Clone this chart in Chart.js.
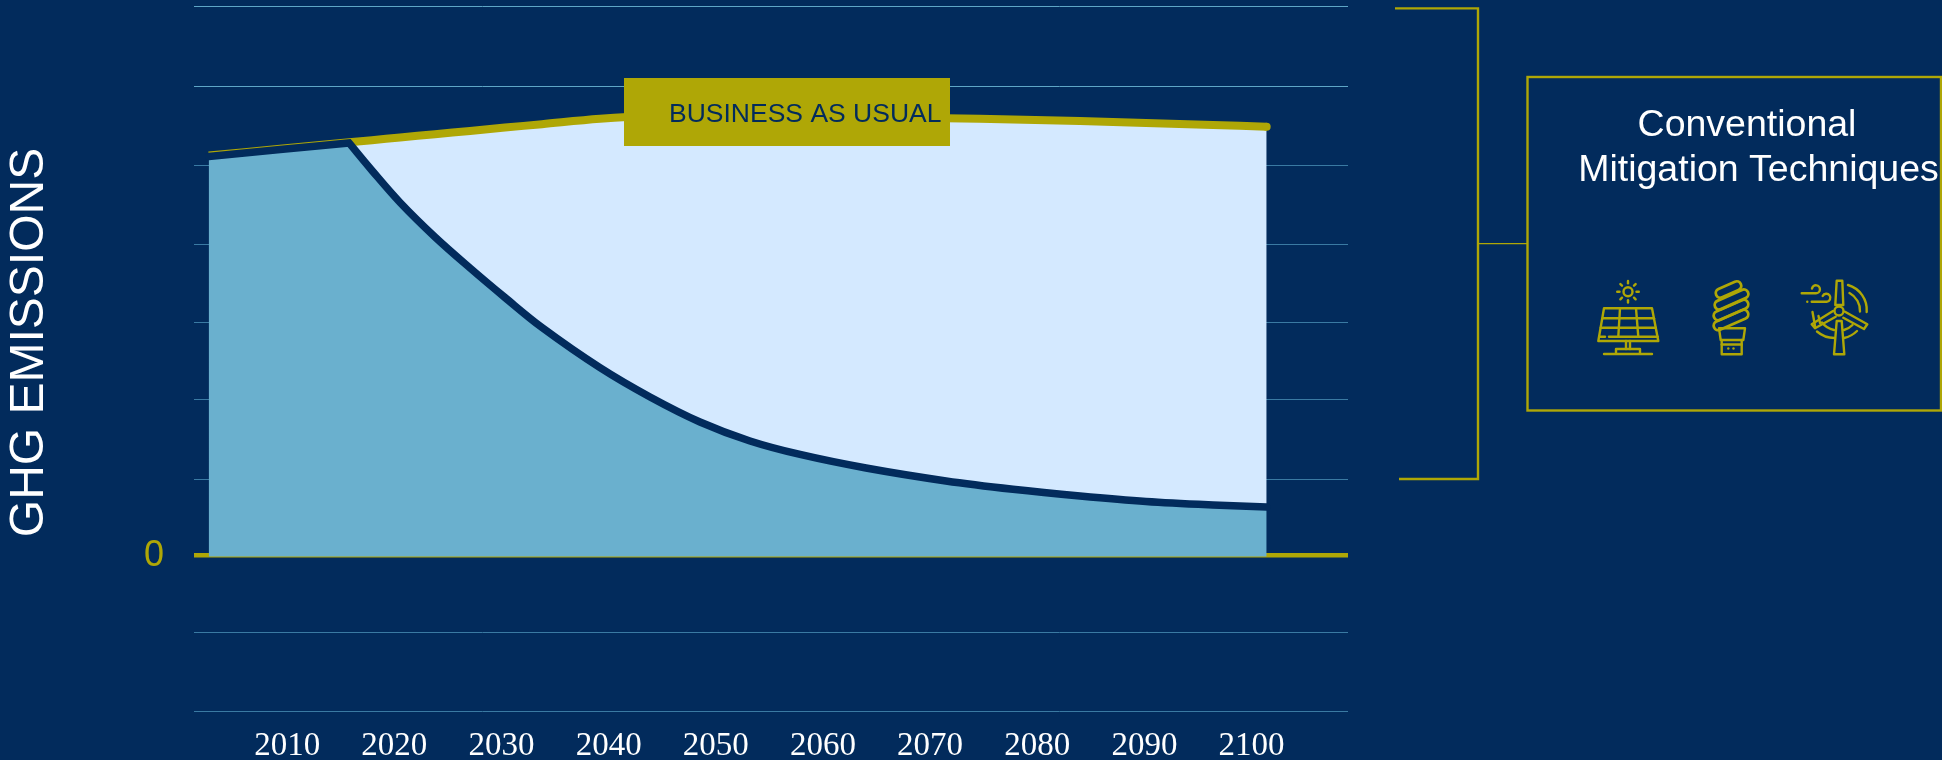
<!DOCTYPE html>
<html>
<head>
<meta charset="utf-8">
<title>GHG emissions</title>
<script src="https://cdn.jsdelivr.net/npm/chart.js@4"></script>
<style>
  html, body { margin: 0; padding: 0; background: #022b5c; overflow: hidden; }
  canvas { display: block; }
</style>
</head>
<body>
<canvas id="emissionsChart" width="1942" height="760"></canvas>
<script>
// 2015.77 twice so the curve keeps its sharp corner there
const years = [2002.67, 2009.33, 2015.77, 2015.77, 2017.91, 2020.53, 2023.79, 2027.06, 2030.32, 2033.78,
  2039.19, 2043.86, 2048.52, 2053.19, 2057.86, 2064.02, 2071.48, 2077.73, 2083.99, 2090.15,
  2096.40, 2101.41];
const mitigated = [5.091, 5.179, 5.263, 5.263, 4.912, 4.504, 4.064, 3.668, 3.292, 2.909,
  2.397, 2.023, 1.704, 1.462, 1.290, 1.117, 0.952, 0.846, 0.760, 0.690,
  0.645, 0.620];
const businessAsUsual = [5.103, 5.189, 5.272, 5.272, 5.299, 5.333, 5.375, 5.417, 5.459, 5.503,
  5.571, 5.607, 5.608, 5.606, 5.601, 5.592, 5.579, 5.561, 5.543, 5.518,
  5.492, 5.471];
const yearTicks = [2010, 2020, 2030, 2040, 2050, 2060, 2070, 2080, 2090, 2100];
const gridValues = [7.0, 5.986, 4.982, 3.974, 2.967, 1.997, 0.977, 0, -0.983, -1.982];

const NAVY = '#022b5c';
const OLIVE = '#afa706';
const MID_BLUE = '#6ab0ce';
const LIGHT_BLUE = '#d4e9ff';
const SANS = '"Liberation Sans", Arial, sans-serif';

const toPoints = values => values.map((v, i) => ({ x: years[i], y: v }));

// box, bracket, texts and icons around the plot
const panelPlugin = {
  id: 'panel',
  afterDatasetsDraw(chart) {
    const ctx = chart.ctx;
    ctx.save();

    // label over the line
    ctx.fillStyle = OLIVE;
    ctx.fillRect(624, 78, 326, 68);
    ctx.fillStyle = NAVY;
    ctx.font = '26.5px ' + SANS;
    ctx.textAlign = 'left';
    ctx.textBaseline = 'alphabetic';
    ctx.fillText('BUSINESS AS USUAL', 669, 122);

    // axis title
    ctx.save();
    ctx.translate(43, 342.5);
    ctx.rotate(-Math.PI / 2);
    ctx.fillStyle = '#ffffff';
    ctx.font = '48px ' + SANS;
    ctx.textAlign = 'center';
    ctx.fillText('GHG EMISSIONS', 0, 0);
    ctx.restore();

    // bracket
    ctx.strokeStyle = OLIVE;
    ctx.lineWidth = 2.4;
    ctx.beginPath();
    ctx.moveTo(1395, 8.4);
    ctx.lineTo(1478, 8.4);
    ctx.lineTo(1478, 479);
    ctx.lineTo(1399, 479);
    ctx.stroke();
    ctx.lineWidth = 1.2;
    ctx.beginPath();
    ctx.moveTo(1478, 243.7);
    ctx.lineTo(1527, 243.7);
    ctx.stroke();

    // box, runs to the right edge
    ctx.lineWidth = 2.4;
    ctx.strokeRect(1527.5, 77, 413.5, 333.5);

    ctx.fillStyle = '#ffffff';
    ctx.font = '37.5px ' + SANS;
    ctx.textAlign = 'center';
    ctx.fillText('Conventional', 1747, 136);
    ctx.fillText('Mitigation Techniques', 1758.5, 181);

    drawSolar(ctx);
    drawBulb(ctx);
    drawTurbine(ctx);
    ctx.restore();
  }
};

function strokePaths(ctx, paths) {
  ctx.strokeStyle = OLIVE;
  ctx.lineWidth = 2.4;
  ctx.lineJoin = 'round';
  ctx.lineCap = 'round';
  paths.forEach(d => ctx.stroke(new Path2D(d)));
}

function drawSolar(ctx) {
  strokePaths(ctx, [
    'M1604 308.3H1652L1658.3 341H1598.3Z',
    'M1602.7 318.3H1654', 'M1600.7 327.7H1655.7',
    'M1599.3 336.7H1605', 'M1609 336.7H1657.7',
    'M1620 308.3L1618.3 336.7', 'M1636 308.3L1638.3 336.7',
    'M1626 341V349', 'M1630 341V349',
    'M1616 353V349H1640V353', 'M1604 354H1652',
    'M1632.5 291.7A4.5 4.5 0 1 0 1623.5 291.7A4.5 4.5 0 1 0 1632.5 291.7Z'
  ]);
  for (let i = 0; i < 8; i++) {
    const a = i * Math.PI / 4;
    ctx.beginPath();
    ctx.moveTo(1628 + Math.cos(a) * 8.5, 291.7 + Math.sin(a) * 8.5);
    ctx.lineTo(1628 + Math.cos(a) * 10.8, 291.7 + Math.sin(a) * 10.8);
    ctx.stroke();
  }
}

function drawBulb(ctx) {
  strokePaths(ctx, [
    'M1719 328.3H1745L1743.3 340H1720.7Z',
    'M1721.7 340V354.3H1741.7V340',
    'M1721.7 344.5H1741.7',
    'M1728.3 348.5V348.6', 'M1733.5 348.5V348.6'
  ]);
  // coils
  ctx.lineWidth = 2.8;
  [[1728.5, 289.5, 27], [1731.5, 299.5, 36], [1731, 310, 37], [1731, 320, 37]].forEach(c => {
    ctx.save();
    ctx.translate(c[0], c[1]);
    ctx.rotate(-24 * Math.PI / 180);
    ctx.beginPath();
    ctx.roundRect(-c[2] / 2, -4.5, c[2], 9, 4.5);
    ctx.stroke();
    ctx.restore();
  });
}

function drawTurbine(ctx) {
  strokePaths(ctx, [
    'M1843.5 311A4.5 4.5 0 1 0 1834.5 311A4.5 4.5 0 1 0 1843.5 311Z',
    'M1836.7 280.7H1842.3L1843.3 305H1835.3Z',
    'M1845 311.7L1867.3 324.3L1864 329L1843.3 317.7',
    'M1833 311L1811.7 324.3L1815 328.3L1835.7 316.7',
    'M1836.7 321H1841.7L1844.3 354.3H1834Z',
    'M1848 285A26 26 0 0 1 1866.7 312',
    'M1849.5 293A20 20 0 0 1 1860 311.5',
    'M1817 331.5A27 27 0 0 0 1834.5 338', 'M1844 338A27 27 0 0 0 1857 331',
    'M1822 322.5A20 20 0 0 0 1834 330', 'M1844 330A20 20 0 0 0 1852.5 325',
    'M1812.5 312L1815 326', 'M1818.5 316L1820 323',
    'M1801.7 293.3H1816A4 4 0 1 0 1812 288.5',
    'M1811.7 301.7H1826.7A4 4 0 1 0 1822.7 296',
    'M1807.3 301.7V301.8'
  ]);
}

new Chart(document.getElementById('emissionsChart'), {
  type: 'line',
  data: {
    datasets: [
      {
        label: 'Mitigated',
        data: toPoints(mitigated),
        borderColor: NAVY,
        borderWidth: 7.5,
        borderCapStyle: 'round',
        backgroundColor: MID_BLUE,
        fill: { value: -0.012 },
        tension: 0.35,
        pointRadius: 0
      },
      {
        label: 'Business as usual',
        data: toPoints(businessAsUsual),
        borderColor: OLIVE,
        borderWidth: 8,
        backgroundColor: LIGHT_BLUE,
        fill: 0,
        tension: 0.35,
        // round end on the right only
        pointRadius: c => (c.dataIndex === years.length - 1 ? 4 : 0),
        pointBackgroundColor: OLIVE,
        pointBorderWidth: 0
      }
    ]
  },
  options: {
    responsive: false,
    animation: false,
    layout: { padding: { top: 6, right: 594, bottom: 0, left: 0 } },
    plugins: {
      legend: { display: false },
      tooltip: { enabled: false }
    },
    scales: {
      x: {
        type: 'linear',
        min: 2001.3,
        max: 2109,
        grid: { display: false },
        border: { display: false },
        afterBuildTicks(scale) { scale.ticks = yearTicks.map(v => ({ value: v })); },
        afterFit(scale) {
          scale.height = 49;
          scale.paddingLeft = 0;
          scale.paddingRight = 0;
        },
        ticks: {
          autoSkip: false,
          maxRotation: 0,
          padding: 8,
          color: '#ffffff',
          font: { family: '"Liberation Serif", "Times New Roman", serif', size: 33 },
          callback: v => String(v)
        }
      },
      y: {
        min: -1.982,
        max: 7.01,
        border: { display: false },
        grid: {
          drawTicks: false,
          color: c => {
            if (c.tick.value === 0) return OLIVE;
            return c.tick.value > 5.5 ? '#5ea6c6' : '#3a7aa3';
          },
          lineWidth: c => (c.tick.value === 0 ? 4.5 : 1)
        },
        afterBuildTicks(scale) { scale.ticks = gridValues.map(v => ({ value: v })); },
        afterFit(scale) {
          scale.width = 194;
          scale.paddingTop = 0;
          scale.paddingBottom = 0;
        },
        ticks: {
          autoSkip: false,
          padding: 30,
          color: OLIVE,
          font: { family: SANS, size: 36 },
          callback: v => (v === 0 ? '0' : '')
        }
      }
    }
  },
  plugins: [panelPlugin]
});
</script>
</body>
</html>
